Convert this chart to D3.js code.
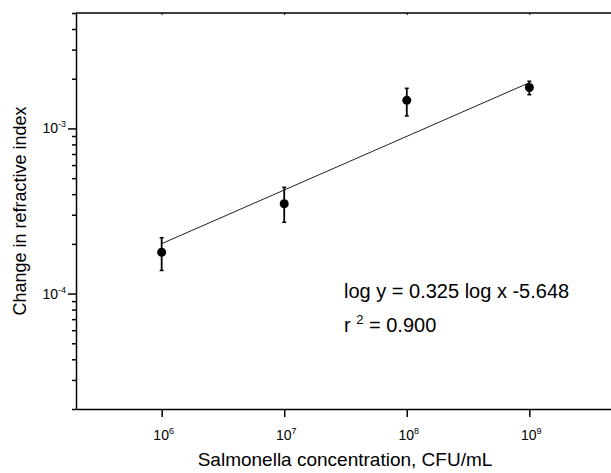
<!DOCTYPE html>
<meta charset="utf-8">
<html lang="en">
<head>
<style>
  body { margin: 0; background: #fff; }
  svg text { font-family: "Liberation Sans", Arial, sans-serif; fill: #000; }
  .axis path, .axis line { stroke: #000; }
</style>
</head>
<body>
<div id="chart"></div>
<script src="https://d3js.org/d3.v7.min.js"></script>
<script>
// data
var concentrations = [1e6, 1e7, 1e8, 1e9];
var deltaN = [1.78e-4, 3.5e-4, 1.48e-3, 1.77e-3];
var errLow = [1.38e-4, 2.7e-4, 1.19e-3, 1.6e-3];
var errHigh = [2.18e-4, 4.4e-4, 1.75e-3, 1.93e-3];
var fitSlope = 0.325, fitIntercept = -5.648;
var xTicks = [1e6, 1e7, 1e8, 1e9];
var yMajor = [1e-4, 1e-3];

var W = 611, H = 473;
var plot = { left: 76, top: 13, bottom: 409, right: 615 };

var svg = d3.select("#chart").append("svg")
    .attr("width", W).attr("height", H);

var x = d3.scaleLog().domain([2e5, 5e9]).range([plot.left, plot.right]);
var y = d3.scaleLog().domain([2e-5, 5e-3]).range([plot.bottom, plot.top]);

// frame: left, bottom, top (right edge falls outside the picture)
svg.append("line").attr("x1", plot.left).attr("x2", plot.right)
    .attr("y1", plot.top).attr("y2", plot.top)
    .attr("stroke", "#000").attr("stroke-width", 1.5);

// y axis, major and minor ticks
var yMinor = [];
[1e-5, 1e-4, 1e-3].forEach(function(d) {
  for (var k = 2; k <= 9; k++) {
    var v = d * k;
    if (v >= 2e-5 && v <= 5e-3) yMinor.push(v);
  }
});
svg.append("g").attr("class", "axis")
  .attr("transform", "translate(" + plot.left + ",0)")
  .call(d3.axisLeft(y).tickValues(yMinor).tickSize(4).tickFormat(""))
  .call(function(g) { g.select(".domain").remove(); })
  .selectAll("line").attr("stroke-width", 1.5);
var yAx = svg.append("g").attr("class", "axis")
  .attr("transform", "translate(" + plot.left + ",0)")
  .call(d3.axisLeft(y).tickValues(yMajor).tickSize(8).tickSizeOuter(0).tickFormat(""));
yAx.select(".domain").attr("stroke-width", 1.5);
yAx.selectAll("line").attr("stroke-width", 1.5);

yMajor.forEach(function(v) {
  var t = svg.append("text")
    .attr("x", plot.left - 10).attr("y", y(v) + 5)
    .attr("text-anchor", "end")
    .attr("font-size", 14);
  t.append("tspan").text("10");
  t.append("tspan").attr("dy", -6).attr("font-size", 9).text(Math.round(Math.log10(v)));
});

// x axis
var xAx = svg.append("g").attr("class", "axis")
  .attr("transform", "translate(0," + plot.bottom + ")")
  .call(d3.axisBottom(x).tickValues(xTicks).tickSize(8).tickSizeOuter(0).tickFormat(""));
xAx.select(".domain").attr("stroke-width", 1.5);
xAx.selectAll("line").attr("stroke-width", 1.5);

svg.append("g").attr("class", "axis")
  .attr("transform", "translate(0," + plot.top + ")")
  .call(d3.axisBottom(x).tickValues(xTicks).tickSize(2).tickFormat(""))
  .call(function(g) { g.select(".domain").remove(); });

xTicks.forEach(function(v) {
  var t = svg.append("text")
    .attr("x", x(v) + 2).attr("y", plot.bottom + 31)
    .attr("text-anchor", "middle")
    .attr("font-size", 14);
  t.append("tspan").text("10");
  t.append("tspan").attr("dy", -6).attr("font-size", 9).text(Math.round(Math.log10(v)));
});

// axis titles
svg.append("text")
  .attr("x", 345).attr("y", 466)
  .attr("text-anchor", "middle").attr("font-size", 19)
  .text("Salmonella concentration, CFU/mL");

svg.append("text")
  .attr("transform", "translate(26," + ((plot.top + plot.bottom) / 2) + ") rotate(-90)")
  .attr("text-anchor", "middle").attr("font-size", 18)
  .text("Change in refractive index");

// fit line
var fit = function(v) { return Math.pow(10, fitSlope * Math.log10(v) + fitIntercept); };
svg.append("line")
  .attr("x1", x(concentrations[0])).attr("y1", y(fit(concentrations[0])))
  .attr("x2", x(concentrations[3])).attr("y2", y(fit(concentrations[3])))
  .attr("stroke", "#222").attr("stroke-width", 1);

// error bars and points
var pts = concentrations.map(function(c, i) {
  return { x: c, y: deltaN[i], lo: errLow[i], hi: errHigh[i] };
});
var g = svg.append("g");
g.selectAll(".eb").data(pts).enter().append("line")
  .attr("x1", d => x(d.x)).attr("x2", d => x(d.x))
  .attr("y1", d => y(d.lo)).attr("y2", d => y(d.hi))
  .attr("stroke", "#000").attr("stroke-width", 1.8);
["lo", "hi"].forEach(function(k) {
  g.selectAll(".cap" + k).data(pts).enter().append("line")
    .attr("x1", d => x(d.x) - 2).attr("x2", d => x(d.x) + 2)
    .attr("y1", d => y(d[k])).attr("y2", d => y(d[k]))
    .attr("stroke", "#000").attr("stroke-width", 1.5);
});
g.selectAll("circle").data(pts).enter().append("circle")
  .attr("cx", d => x(d.x)).attr("cy", d => y(d.y))
  .attr("r", 4.5).attr("fill", "#000");

// equation
svg.append("text").attr("x", 344).attr("y", 298).attr("font-size", 20)
  .text("log y = " + fitSlope.toFixed(3) + " log x " + fitIntercept.toFixed(3));
var r2 = svg.append("text").attr("x", 344).attr("y", 332).attr("font-size", 20);
r2.append("tspan").text("r ");
r2.append("tspan").attr("dy", -8).attr("font-size", 13).text("2");
r2.append("tspan").attr("dy", 8).text(" = 0.900");
</script>
</body>
</html>
